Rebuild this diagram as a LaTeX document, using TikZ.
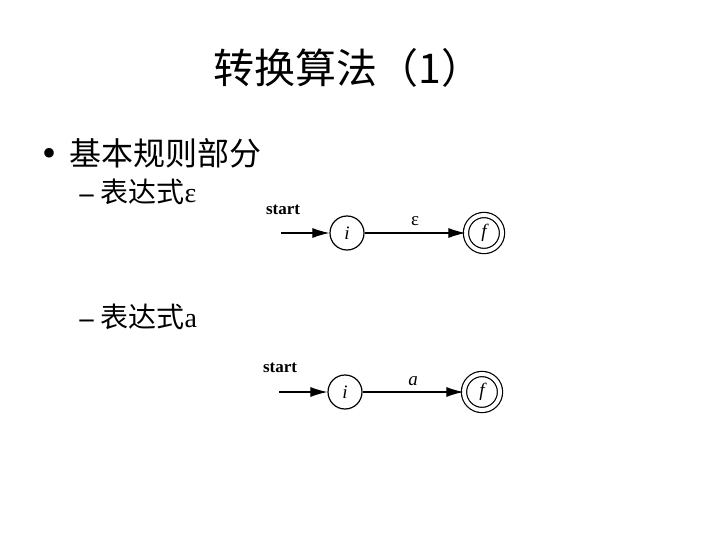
\documentclass[tikz,border=0pt]{standalone}
\usepackage{fontspec}
\setmainfont{Liberation Serif}
\newfontfamily\cjk{Noto Sans CJK SC}
\usetikzlibrary{arrows.meta}
\begin{document}
\begin{tikzpicture}[x=1pt,y=-1pt,
  state/.style={draw,circle,line width=1.2pt,minimum size=34pt,inner sep=0pt,font=\itshape\fontsize{19}{19}\selectfont},
  accept/.style={state,double,double distance=4pt,minimum size=36pt},
  edge/.style={-{Latex[length=17pt,width=10pt]},line width=1.1pt},
  lbl/.style={font=\bfseries\fontsize{17}{17}\selectfont},
  item/.style={anchor=west,font=\cjk\fontsize{28}{28}\selectfont}]
\useasboundingbox (0,0) rectangle (720,540);
\node[font=\cjk\fontsize{41}{41}\selectfont] (title) at (348,68) {转换算法（1）};
\node[font=\fontsize{40}{40}\selectfont] (b1) at (50,157) {•};
\node[anchor=west,font=\cjk\fontsize{32}{32}\selectfont] (t1) at (66,153) {基本规则部分};
\node[item] (t2) at (76,192) {{\rmfamily\bfseries –}\hspace{7pt}表达式{\rmfamily ε}};
\node[item] (t3) at (76,317) {{\rmfamily\bfseries –}\hspace{7pt}表达式{\rmfamily a}};
% diagram 1
\node[lbl] (s1) at (283,210) {start};
\coordinate (in1) at (281,233);
\node[state] (i1) at (347,233) {i};
\node[accept] (f1) at (484,233) {f};
\draw[edge] (in1) -- (i1);
\draw[edge] (i1) -- node[above=3pt,font=\fontsize{19}{19}\selectfont] {ε} (f1);
% diagram 2
\node[lbl] (s2) at (280,368) {start};
\coordinate (in2) at (279,392);
\node[state] (i2) at (345,392) {i};
\node[accept] (f2) at (482,392) {f};
\draw[edge] (in2) -- (i2);
\draw[edge] (i2) -- node[above=2pt,font=\itshape\fontsize{19}{19}\selectfont] {a} (f2);
\end{tikzpicture}
\end{document}
